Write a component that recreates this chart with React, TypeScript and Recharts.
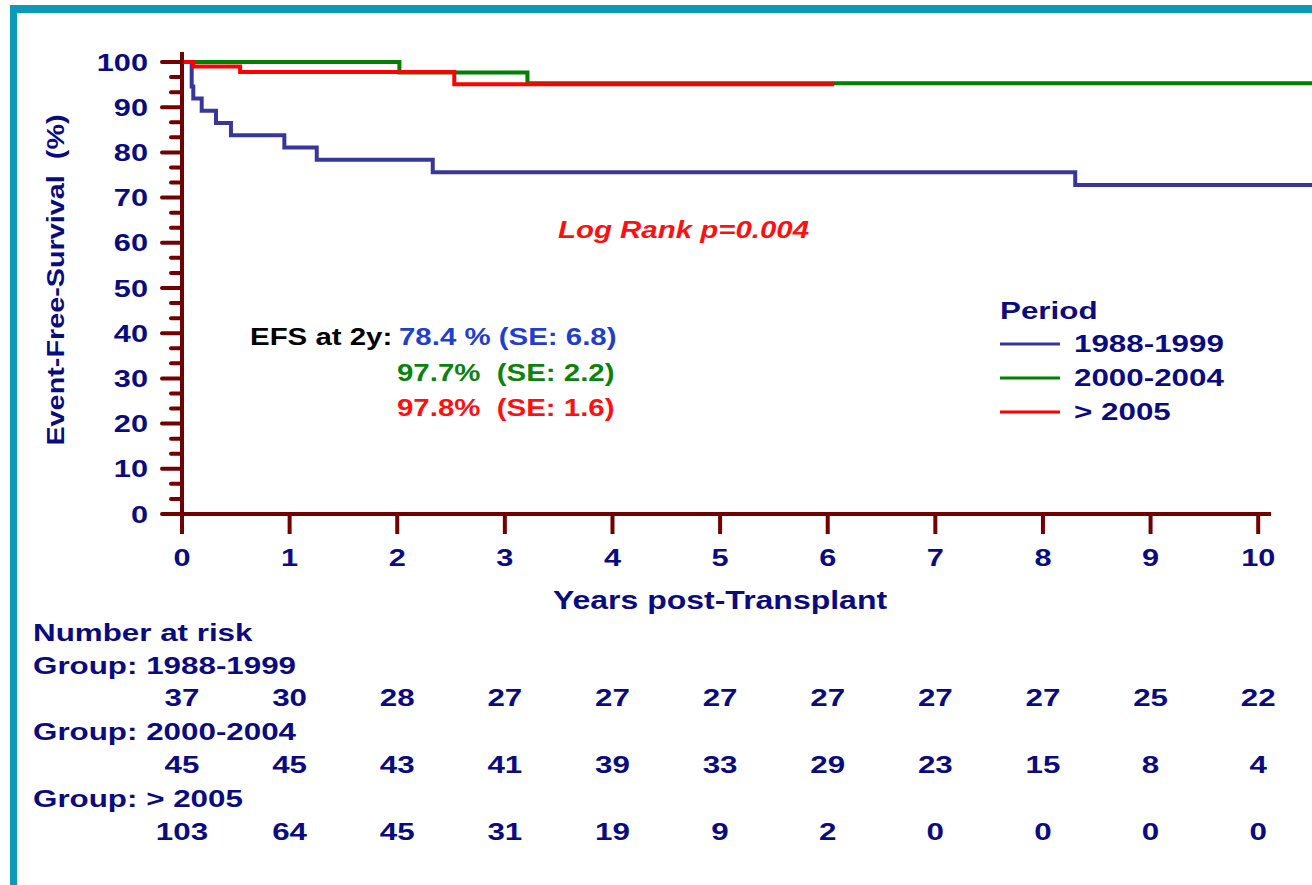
import React from "react";
import { LineChart, Line, XAxis, YAxis, ReferenceLine, Legend } from "recharts";

if (typeof document !== "undefined") {
  document.body.style.margin = "0";
}

// ---------- data ----------
const YEARS = [0, 1, 2, 3, 4, 5, 6, 7, 8, 9, 10];
const Y_MAJOR = [0, 10, 20, 30, 40, 50, 60, 70, 80, 90, 100];
const PERIODS = ["1988-1999", "2000-2004", "> 2005"];

const efs1988 = [
  { t: 0, v: 100 },
  { t: 0.09, v: 94.6 },
  { t: 0.105, v: 91.9 },
  { t: 0.183, v: 89.2 },
  { t: 0.316, v: 86.5 },
  { t: 0.455, v: 83.8 },
  { t: 0.951, v: 81.1 },
  { t: 1.252, v: 78.4 },
  { t: 2.33, v: 75.6 },
  { t: 8.3, v: 72.8 },
  { t: 10.5, v: 72.8 },
];
const efs2000 = [
  { t: 0, v: 100 },
  { t: 2.02, v: 97.7 },
  { t: 3.21, v: 95.3 },
  { t: 10.5, v: 95.3 },
];
const efs2005 = [
  { t: 0, v: 100 },
  { t: 0.105, v: 99.0 },
  { t: 0.54, v: 97.8 },
  { t: 2.53, v: 95.1 },
  { t: 6.06, v: 95.1 },
];

const RISK_1988 = [37, 30, 28, 27, 27, 27, 27, 27, 27, 25, 22];
const RISK_2000 = [45, 45, 43, 41, 39, 33, 29, 23, 15, 8, 4];
const RISK_2005 = [103, 64, 45, 31, 19, 9, 2, 0, 0, 0, 0];
const RISK_ROWS = [RISK_1988, RISK_2000, RISK_2005];

const EFS_LINES = [
  { text: "78.4 % (SE: 6.8)", color: "#1E40CC" },
  { text: "97.7%  (SE: 2.2)", color: "#0B820B" },
  { text: "97.8%  (SE: 1.6)", color: "#FF1010" },
];

// ---------- style ----------
const NAVY = "#0B0B80";
const AXIS = "#720000";
const TEAL = "#0A9BBB";
const COLORS = ["#37379B", "#008000", "#FF0000"];
const FONT = '"Liberation Sans", Arial, Helvetica, sans-serif';
const SX = 1.28;
const Y_TICK_SIZE = 22;
const Y_TICK_MARGIN = 12;

const minorTicks: number[] = [];
Y_MAJOR.forEach((m, i) => {
  minorTicks.push(m);
  if (i < Y_MAJOR.length - 1) {
    const step = (Y_MAJOR[i + 1] - m) / 3;
    minorTicks.push(m + step, m + 2 * step);
  }
});

function SText(props: any) {
  const {
    x,
    y,
    anchor = "start",
    size = 24,
    color = NAVY,
    italic = false,
    children,
    sx = SX,
  } = props;
  return (
    <text
      transform={`translate(${x},${y}) scale(${sx},1)`}
      x={0}
      y={0}
      dy="0.355em"
      textAnchor={anchor}
      fontSize={size}
      fontFamily={FONT}
      fontWeight="bold"
      fontStyle={italic ? "italic" : "normal"}
      fill={color}
      style={{ whiteSpace: "pre" }}
    >
      {children}
    </text>
  );
}

const ROW_OFFSETS = [155, 222, 289];

function XTick(props: any) {
  const { x, y, payload } = props;
  const i = YEARS.indexOf(payload.value);
  return (
    <g>
      <SText x={x} y={y + 15} anchor="middle">
        {String(payload.value)}
      </SText>
      {RISK_ROWS.map((row, r) => (
        <SText key={r} x={x} y={y + ROW_OFFSETS[r]} anchor="middle" size={24.5}>
          {String(row[i])}
        </SText>
      ))}
    </g>
  );
}

function YTick(props: any) {
  const { x, y, payload } = props;
  const major = Y_MAJOR.some((m) => Math.abs(m - payload.value) < 1e-6);
  const right = x + Y_TICK_MARGIN + Y_TICK_SIZE;
  return (
    <g>
      <line
        x1={right - (major ? 20 : 11)}
        x2={right}
        y1={y}
        y2={y}
        stroke={AXIS}
        strokeWidth={4}
        strokeLinecap="round"
      />
      {major && (
        <SText x={x} y={y} anchor="end">
          {String(Math.round(payload.value))}
        </SText>
      )}
    </g>
  );
}

function LegendContent(props: any) {
  const payload = props.payload || [];
  return (
    <svg width={322} height={140} style={{ display: "block" }}>
      <SText x={10} y={20} size={24.5}>
        Period
      </SText>
      {payload.map((p: any, i: number) => (
        <g key={i}>
          <line x1={10} x2={70} y1={54 + i * 34} y2={54 + i * 34} stroke={p.color} strokeWidth={3} />
          <SText x={84} y={53 + i * 34} size={24.5}>
            {p.value}
          </SText>
        </g>
      ))}
    </svg>
  );
}

export default function App() {
  return (
    <div style={{ position: "relative", width: 1312, height: 885, background: "#fff", overflow: "hidden" }}>
      <div
        style={{
          position: "absolute",
          left: 10,
          top: 5,
          right: -10,
          bottom: -10,
          borderTop: `8px solid ${TEAL}`,
          borderLeft: `7px solid ${TEAL}`,
        }}
      />
      <div style={{ position: "absolute", left: 0, top: 0 }}>
        <LineChart width={1312} height={885} margin={{ top: 62, right: 0, bottom: 0, left: 0 }}>
          <XAxis
            type="number"
            dataKey="t"
            domain={[0, 10.5]}
            ticks={YEARS}
            interval={0}
            allowDataOverflow
            axisLine={false}
            tickLine={{ stroke: AXIS, strokeWidth: 4 }}
            stroke={AXIS}
            tickSize={20}
            tickMargin={8}
            height={371}
            tick={<XTick />}
          />
          <YAxis
            type="number"
            domain={[0, 100]}
            ticks={minorTicks}
            interval={0}
            axisLine={false}
            tickLine={false}
            tickSize={Y_TICK_SIZE}
            tickMargin={Y_TICK_MARGIN}
            width={182}
            tick={<YTick />}
          />
          <ReferenceLine
            segment={[
              { x: 0, y: 0 },
              { x: 10.12, y: 0 },
            ]}
            stroke={AXIS}
            strokeWidth={4}
            ifOverflow="visible"
          />
          <ReferenceLine
            segment={[
              { x: 0, y: 0 },
              { x: 0, y: 102.2 },
            ]}
            stroke={AXIS}
            strokeWidth={4}
            ifOverflow="visible"
          />
          <Line data={efs1988} dataKey="v" name={PERIODS[0]} type="stepAfter" stroke={COLORS[0]} strokeWidth={4} dot={false} isAnimationActive={false} />
          <Line data={efs2000} dataKey="v" name={PERIODS[1]} type="stepAfter" stroke={COLORS[1]} strokeWidth={4} dot={false} isAnimationActive={false} />
          <Line data={efs2005} dataKey="v" name={PERIODS[2]} type="stepAfter" stroke={COLORS[2]} strokeWidth={4} dot={false} isAnimationActive={false} />
          <Legend
            layout="vertical"
            align="center"
            verticalAlign="middle"
            content={<LegendContent />}
            wrapperStyle={{ left: 990, top: 290, width: 322, height: 140 }}
          />
        </LineChart>
      </div>
      <svg
        width={1312}
        height={885}
        style={{ position: "absolute", left: 0, top: 0, pointerEvents: "none" }}
      >
        <text
          transform="translate(55,280) rotate(-90) scale(1.2,1)"
          dy="0.355em"
          textAnchor="middle"
          fontSize={24}
          fontFamily={FONT}
          fontWeight="bold"
          fill={NAVY}
          style={{ whiteSpace: "pre" }}
        >
          {"Event-Free-Survival  (%)"}
        </text>
        <SText x={720} y={600} anchor="middle" size={25}>
          Years post-Transplant
        </SText>
        <SText x={558} y={230} size={23} italic color="#FF1010">
          Log Rank p=0.004
        </SText>
        <SText x={250} y={337} size={23} color="#000">
          EFS at 2y:
        </SText>
        {EFS_LINES.map((l, i) => (
          <SText key={i} x={i === 0 ? 399 : 397} y={337 + i * 35.5} size={23} color={l.color}>
            {l.text}
          </SText>
        ))}
        <SText x={33} y={632} size={24.5}>
          Number at risk
        </SText>
        {PERIODS.map((p, i) => (
          <SText key={p} x={33} y={665 + i * 66.5} size={24.5}>
            {`Group: ${p}`}
          </SText>
        ))}
      </svg>
    </div>
  );
}
